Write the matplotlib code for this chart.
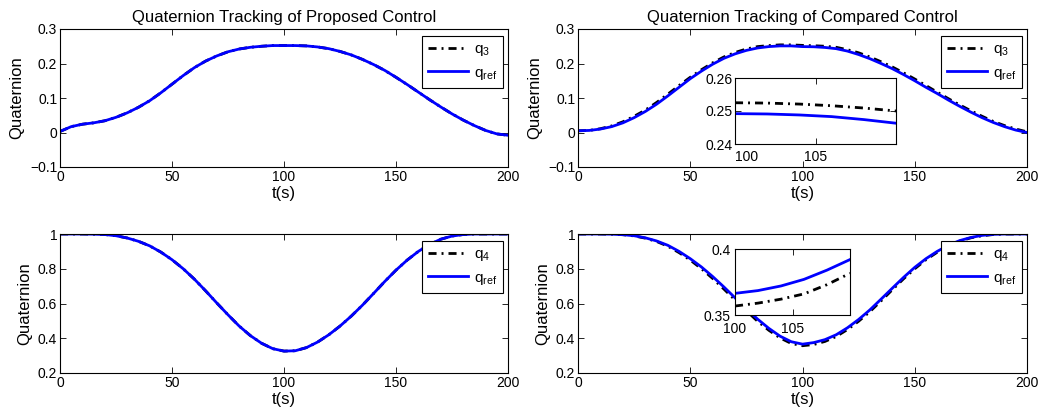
import numpy as np
import matplotlib
matplotlib.use("Agg")
import matplotlib.pyplot as plt

plt.rcParams['font.family'] = ['Liberation Sans', 'DejaVu Sans']
plt.rcParams['mathtext.fontset'] = 'custom'
plt.rcParams['mathtext.rm'] = 'Liberation Sans'
plt.rcParams['mathtext.it'] = 'Liberation Sans:italic'

# ---------------- data ----------------
t = [0, 5, 10, 15, 20, 25, 30, 35, 40, 45, 50, 55, 60, 65, 70, 75, 80, 85, 90, 95, 100,
     105, 110, 115, 120, 125, 130, 135, 140, 145, 150, 155, 160, 165, 170, 175, 180, 185, 190, 195, 200]

# Proposed control, q3 and reference (overlapping)
q3_ref_prop = [0.003, 0.017, 0.024, 0.028, 0.034, 0.044, 0.057, 0.073, 0.092, 0.115, 0.140,
               0.165, 0.188, 0.207, 0.222, 0.234, 0.242, 0.247, 0.250, 0.252, 0.252,
               0.252, 0.251, 0.248, 0.243, 0.235, 0.225, 0.212, 0.197, 0.180, 0.160,
               0.139, 0.117, 0.095, 0.074, 0.054, 0.036, 0.020, 0.006, -0.004, -0.008]
q3_prop = [0.003, 0.017, 0.024, 0.028, 0.034, 0.044, 0.057, 0.073, 0.092, 0.115, 0.140,
           0.165, 0.188, 0.207, 0.222, 0.234, 0.242, 0.247, 0.250, 0.252, 0.252,
           0.252, 0.251, 0.248, 0.243, 0.235, 0.225, 0.212, 0.197, 0.180, 0.160,
           0.139, 0.117, 0.095, 0.074, 0.054, 0.036, 0.020, 0.006, -0.004, -0.008]

# Compared control, q3 and reference
q3_ref_comp = [0.005, 0.006, 0.010, 0.017, 0.028, 0.043, 0.061, 0.082, 0.106, 0.131, 0.156,
               0.178, 0.198, 0.215, 0.228, 0.238, 0.245, 0.249, 0.251, 0.251, 0.249,
               0.2485, 0.2465, 0.243, 0.236, 0.226, 0.214, 0.200, 0.185, 0.168, 0.150,
               0.131, 0.113, 0.094, 0.076, 0.059, 0.043, 0.029, 0.017, 0.007, 0.000]
q3_comp = [0.005, 0.006, 0.011, 0.019, 0.031, 0.047, 0.065, 0.087, 0.111, 0.136, 0.160,
           0.182, 0.202, 0.219, 0.232, 0.242, 0.249, 0.252, 0.254, 0.254, 0.2525,
           0.2515, 0.250, 0.247, 0.240, 0.231, 0.219, 0.205, 0.190, 0.173, 0.155,
           0.136, 0.117, 0.098, 0.080, 0.063, 0.047, 0.032, 0.020, 0.010, 0.002]

# Proposed control, q4 and reference (overlapping)
q4_ref_prop = [1.0, 1.0, 1.0, 0.999, 0.997, 0.990, 0.977, 0.958, 0.932, 0.896, 0.852,
               0.800, 0.740, 0.673, 0.603, 0.535, 0.470, 0.415, 0.371, 0.340, 0.326,
               0.328, 0.346, 0.378, 0.420, 0.470, 0.527, 0.590, 0.658, 0.727, 0.792,
               0.850, 0.900, 0.940, 0.970, 0.988, 0.997, 1.0, 1.0, 1.0, 1.0]
q4_prop = [1.0, 1.0, 1.0, 0.999, 0.997, 0.990, 0.977, 0.958, 0.932, 0.896, 0.852,
           0.800, 0.740, 0.673, 0.603, 0.535, 0.470, 0.415, 0.371, 0.340, 0.326,
           0.328, 0.346, 0.378, 0.420, 0.470, 0.527, 0.590, 0.658, 0.727, 0.792,
           0.850, 0.900, 0.940, 0.970, 0.988, 0.997, 1.0, 1.0, 1.0, 1.0]

# Compared control, q4 and reference
q4_ref_comp = [1.0, 1.0, 1.0, 0.999, 0.996, 0.990, 0.978, 0.960, 0.935, 0.900, 0.858,
               0.810, 0.755, 0.695, 0.632, 0.570, 0.510, 0.457, 0.412, 0.380, 0.366,
               0.375, 0.392, 0.420, 0.460, 0.508, 0.563, 0.625, 0.688, 0.750, 0.808,
               0.858, 0.900, 0.935, 0.962, 0.980, 0.992, 0.998, 1.0, 1.0, 1.0]
q4_comp = [1.0, 1.0, 1.0, 0.999, 0.996, 0.989, 0.976, 0.957, 0.930, 0.893, 0.850,
           0.800, 0.744, 0.683, 0.620, 0.558, 0.498, 0.446, 0.402, 0.370, 0.357,
           0.364, 0.3816, 0.410, 0.450, 0.498, 0.553, 0.615, 0.679, 0.742, 0.800,
           0.852, 0.895, 0.931, 0.959, 0.978, 0.990, 0.997, 1.0, 1.0, 1.0]

# Inset (zoomed) data, t = 100..110
t_zoom = [100, 102, 104, 106, 108, 110]
q3_ref_zoom = [0.2492, 0.2491, 0.2488, 0.2483, 0.2474, 0.2463]
q3_comp_zoom = [0.2525, 0.2524, 0.2521, 0.2516, 0.2509, 0.2500]
q4_ref_zoom = [0.3664, 0.3685, 0.3720, 0.3770, 0.3840, 0.3920]
q4_comp_zoom = [0.3568, 0.3590, 0.3620, 0.3660, 0.3730, 0.3816]

titles = ["Quaternion Tracking of Proposed Control", "Quaternion Tracking of Compared Control"]
xticks = [0, 50, 100, 150, 200]
yticks_q3 = [-0.1, 0, 0.1, 0.2, 0.3]
yticks_q3_lbl = ["\u22120.1", "0", "0.1", "0.2", "0.3"]
yticks_q4 = [0.2, 0.4, 0.6, 0.8, 1.0]
yticks_q4_lbl = ["0.2", "0.4", "0.6", "0.8", "1"]

# ---------------- style ----------------
DASHDOT = (0, (2.9, 1.8, 0.7, 1.8))
LW = 2.0
TICKFS = 10
LABELFS = 12
TITLEFS = 12
LEGFS = 11

W, H = 1043, 417
fig = plt.figure(figsize=(W / 100, H / 100), dpi=100)


def px_axes(x0, y0, x1, y1):
    return fig.add_axes([x0 / W, 1 - y1 / H, (x1 - x0) / W, (y1 - y0) / H])


def style(ax, fs=TICKFS):
    ax.tick_params(direction='in', top=True, right=True, length=4, width=0.6,
                   labelsize=fs, pad=2)
    for s in ax.spines.values():
        s.set_linewidth(0.8)


axs = [
    px_axes(60, 29, 508, 167),
    px_axes(578, 29, 1027, 167),
    px_axes(60, 234, 508, 373),
    px_axes(578, 234, 1027, 373),
]

series = [
    (q3_prop, q3_ref_prop, r'$\mathrm{q_{3}}$'),
    (q3_comp, q3_ref_comp, r'$\mathrm{q_{3}}$'),
    (q4_prop, q4_ref_prop, r'$\mathrm{q_{4}}$'),
    (q4_comp, q4_ref_comp, r'$\mathrm{q_{4}}$'),
]

for i, ax in enumerate(axs):
    q, qr, lbl = series[i]
    ax.plot(t, q, color='black', lw=LW, linestyle=DASHDOT, label=lbl)
    ax.plot(t, qr, color='#0000ff', lw=LW, label=r'$\mathrm{q_{ref}}$')
    ax.set_xlim(0, 200)
    ax.set_xticks(xticks)
    if i < 2:
        ax.set_ylim(-0.1, 0.3)
        ax.set_yticks(yticks_q3)
        ax.set_yticklabels(yticks_q3_lbl)
        ax.set_title(titles[i], fontsize=TITLEFS, pad=5)
    else:
        ax.set_ylim(0.2, 1.0)
        ax.set_yticks(yticks_q4)
        ax.set_yticklabels(yticks_q4_lbl)
    ax.set_xlabel('t(s)', fontsize=LABELFS, labelpad=1.5)
    ax.set_ylabel('Quaternion', fontsize=LABELFS, labelpad=4)
    style(ax)
    leg = ax.legend(loc='upper right', bbox_to_anchor=(0.989, 0.95), fontsize=LEGFS,
                    frameon=True, fancybox=False, edgecolor='black', framealpha=1,
                    handlelength=2.6, handletextpad=0.4, borderpad=0.4, labelspacing=0.5,
                    borderaxespad=0)
    leg.get_frame().set_linewidth(0.8)

# insets
ins1 = px_axes(735, 78, 896, 144)
ins1.plot(t_zoom, q3_comp_zoom, color='black', lw=LW, linestyle=DASHDOT)
ins1.plot(t_zoom, q3_ref_zoom, color='#0000ff', lw=LW)
ins1.set_xlim(100, 110)
ins1.set_ylim(0.24, 0.26)
ins1.set_xticks([100, 105])
ins1.set_yticks([0.24, 0.25, 0.26])
ins1.set_yticklabels(["0.24", "0.25", "0.26"])
style(ins1)
ins1.tick_params(axis='x', pad=4)
ins1.get_xticklabels()[0].set_horizontalalignment('left')

ins2 = px_axes(735, 249, 850, 315)
ins2.plot(t_zoom, q4_comp_zoom, color='black', lw=LW, linestyle=DASHDOT)
ins2.plot(t_zoom, q4_ref_zoom, color='#0000ff', lw=LW)
ins2.set_xlim(100, 110)
ins2.set_ylim(0.35, 0.40)
ins2.set_xticks([100, 105])
ins2.set_yticks([0.35, 0.40])
ins2.set_yticklabels(["0.35", "0.4"])
style(ins2)
ins2.tick_params(axis='x', pad=5)
ins2.tick_params(axis='y', pad=3)

fig.savefig('out.png', dpi=100)
